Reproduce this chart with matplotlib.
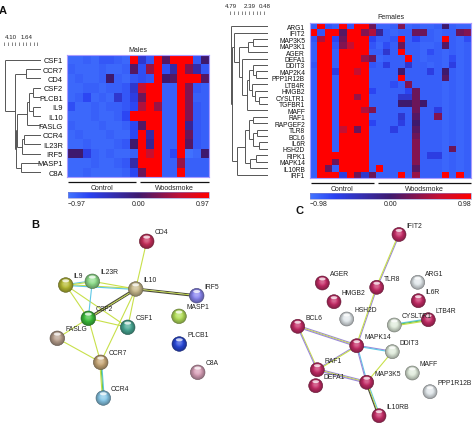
import numpy as np
import matplotlib
matplotlib.use('Agg')
import matplotlib.pyplot as plt
import matplotlib.transforms as mtransforms
from matplotlib.colors import LinearSegmentedColormap, Normalize, to_rgb
from matplotlib.colorbar import ColorbarBase
from matplotlib.patches import Circle, Ellipse

plt.rcParams['font.family'] = ['Liberation Sans', 'DejaVu Sans']

W, H, DPI = 473, 427, 100

# %% panel A, males
male_genes = ['CSF1', 'CCR7', 'CD4', 'CSF2', 'PLCB1', 'IL9', 'IL10', 'FASLG',
              'CCR4', 'IL23R', 'IRF5', 'MASP1', 'C8A']
male_groups = [('Control', 9), ('Woodsmoke', 9)]
male_lim = 0.97
male_values = [
    [-0.9, -0.9, -0.85, -0.9, -0.8, -0.8, -0.85, -0.9, 0.97, -0.5, -0.8, 0.97, 0.1, 0.97, 0.97, 0.97, -0.8, 0.0],
    [-0.85, -0.9, -0.9, -0.9, -0.85, -0.9, -0.9, -0.85, 0.1, -0.75, 0.4, 0.97, -0.75, -0.3, 0.97, 0.3, -0.3, -0.8],
    [-0.9, -0.85, -0.9, -0.9, -0.85, 0.0, -0.85, -0.9, -0.8, -0.75, -0.8, 0.97, 0.0, 0.1, 0.97, 0.97, 0.97, 0.1],
    [-0.9, -0.9, -0.85, -0.85, -0.9, -0.85, -0.85, -0.8, -0.5, 0.6, 0.97, 0.97, -0.85, -0.85, 0.97, 0.3, -0.8, -0.85],
    [-0.9, -0.85, -0.7, -0.9, -0.85, -0.9, -0.5, -0.8, -0.6, 0.2, 0.97, 0.97, -0.85, -0.85, 0.97, 0.3, -0.85, -0.85],
    [-0.75, -0.9, -0.9, -0.85, -0.9, -0.85, -0.85, -0.8, -0.7, 0.5, 0.97, 0.4, -0.85, -0.85, 0.97, 0.3, -0.8, -0.85],
    [-0.9, -0.9, -0.9, -0.85, -0.9, -0.9, -0.85, -0.7, 0.97, 0.97, 0.97, 0.97, -0.85, -0.85, 0.97, 0.3, -0.8, -0.85],
    [-0.85, -0.9, -0.9, -0.9, -0.85, -0.9, -0.9, -0.85, -0.7, 0.1, 0.97, 0.97, -0.85, -0.85, 0.97, -0.2, -0.8, -0.85],
    [-0.9, -0.85, -0.9, -0.9, -0.9, -0.85, -0.9, -0.9, -0.7, 0.97, -0.3, 0.97, -0.85, -0.85, 0.97, 0.2, -0.8, -0.85],
    [-0.9, -0.9, -0.85, -0.9, -0.9, -0.9, -0.85, -0.8, 0.0, 0.97, -0.2, 0.97, -0.85, -0.85, 0.97, 0.1, -0.8, -0.85],
    [0.0, 0.0, -0.6, -0.85, -0.9, -0.85, -0.9, -0.9, -0.85, 0.97, 0.6, 0.97, -0.85, -0.7, 0.97, -0.95, -0.9, 0.0],
    [-0.9, -0.9, -0.9, -0.85, -0.9, -0.9, -0.85, -0.8, -0.3, 0.97, 0.97, 0.97, -0.85, -0.85, 0.4, -0.85, -0.85, -0.85],
    [-0.9, -0.9, -0.85, -0.9, -0.9, -0.9, -0.9, -0.85, -0.7, 0.2, 0.97, 0.97, -0.85, -0.85, 0.97, -0.85, -0.85, -0.85],
]
# merges: (child a, child b, height); children >= n are earlier merges
male_tree = [(1, 2, 1.75), (3, 4, 0.85), (5, 6, 0.9), (14, 15, 1.4), (16, 7, 1.55),
             (8, 9, 1.9), (18, 10, 2.15), (11, 12, 2.3), (17, 19, 2.75),
             (21, 20, 2.85), (13, 22, 2.95), (0, 23, 4.1)]
male_scale = [4.10, 1.64]
male_tree_max = 4.3

# %% panel A, females
female_genes = ['ARG1', 'IFIT2', 'MAP3K5', 'MAP3K1', 'AGER', 'DEFA1', 'DDIT3', 'MAP2K4',
                'PPP1R12B', 'LTB4R', 'HMGB2', 'CYSLTR1', 'TGFBR1', 'MAFF', 'RAF1',
                'RAPGEF2', 'TLR8', 'BCL6', 'IL6R', 'HSH2D', 'RIPK1', 'MAPK14', 'IL10RB', 'IRF1']
female_groups = [('Control', 9), ('Woodsmoke', 13)]
female_lim = 0.98
female_values = [
    [-0.85, 0.98, -0.8, -0.85, 0.98, -0.8, 0.98, 0.98, 0.2, -0.9, -0.9, -0.85, 0.3, -0.9, -0.85, -0.9, -0.9, -0.85, 0.0, -0.85, -0.9, -0.9],
    [0.98, -0.8, 0.98, 0.98, 0.1, 0.98, 0.98, 0.3, 0.5, -0.2, -0.85, -0.9, -0.85, -0.85, 0.2, 0.2, -0.85, -0.9, -0.85, -0.85, 0.2, 0.3],
    [-0.8, 0.5, 0.98, -0.7, 0.2, 0.98, 0.98, 0.98, -0.7, -0.85, -0.85, -0.8, 0.98, -0.85, -0.7, -0.85, -0.85, -0.9, 0.98, -0.85, -0.9, -0.75],
    [-0.85, 0.98, 0.98, -0.8, 0.3, 0.6, 0.98, 0.98, -0.8, -0.9, -0.75, -0.85, 0.2, -0.85, -0.85, -0.9, -0.9, -0.85, 0.1, -0.85, -0.9, -0.85],
    [-0.85, 0.98, 0.98, -0.85, 0.98, 0.98, 0.98, 0.98, -0.85, -0.85, -0.5, -0.85, 0.98, -0.85, -0.85, -0.9, -0.75, -0.85, -0.9, -0.85, -0.9, -0.85],
    [-0.85, 0.98, 0.98, -0.85, 0.98, 0.98, 0.98, 0.4, 0.2, -0.9, -0.85, -0.85, -0.85, 0.98, -0.85, -0.9, -0.85, -0.85, -0.9, -0.75, -0.9, -0.85],
    [-0.8, 0.98, 0.98, -0.85, 0.98, 0.98, 0.98, 0.98, -0.8, -0.85, -0.6, -0.85, -0.85, -0.5, -0.85, -0.85, -0.9, -0.85, -0.9, -0.6, -0.9, -0.85],
    [-0.85, 0.98, 0.98, -0.6, 0.98, 0.98, 0.6, 0.98, -0.85, -0.85, -0.85, -0.85, 0.0, -0.85, -0.85, -0.85, -0.6, -0.85, 0.0, -0.85, -0.9, -0.85],
    [-0.85, 0.98, 0.98, -0.85, 0.98, 0.98, 0.98, 0.98, -0.85, -0.85, -0.85, -0.85, 0.98, -0.85, -0.85, -0.85, -0.85, -0.85, 0.1, -0.85, -0.9, -0.85],
    [-0.85, 0.98, 0.98, -0.85, 0.98, 0.98, 0.98, 0.98, -0.85, -0.85, -0.85, -0.75, -0.85, 0.3, -0.85, -0.85, -0.85, -0.85, -0.9, -0.85, -0.9, -0.85],
    [-0.85, 0.98, 0.98, -0.85, 0.98, 0.98, 0.98, 0.98, -0.7, -0.85, -0.85, -0.85, -0.85, -0.7, 0.2, -0.85, -0.85, -0.85, -0.9, -0.85, -0.9, -0.85],
    [-0.85, 0.98, 0.98, -0.85, 0.98, 0.98, 0.4, 0.98, -0.85, -0.85, -0.85, -0.85, -0.5, -0.5, 0.2, -0.85, -0.85, -0.85, -0.9, -0.85, -0.9, -0.85],
    [-0.85, 0.98, 0.98, -0.85, 0.98, 0.98, 0.98, 0.98, -0.85, -0.85, -0.85, -0.85, 0.0, 0.0, 0.2, 0.0, -0.85, -0.85, -0.9, -0.85, -0.9, -0.85],
    [-0.85, 0.98, 0.98, -0.85, 0.98, 0.98, 0.98, 0.5, 0.3, -0.85, -0.85, -0.85, -0.85, -0.85, 0.2, -0.85, -0.85, -0.6, -0.9, -0.85, -0.9, -0.85],
    [-0.85, 0.98, 0.98, -0.85, 0.98, 0.98, 0.98, 0.98, -0.85, -0.85, -0.85, -0.85, -0.5, -0.85, 0.1, -0.85, -0.85, 0.3, -0.9, -0.85, -0.9, -0.85],
    [-0.85, 0.98, 0.98, -0.85, 0.98, 0.98, 0.98, 0.98, -0.7, -0.85, -0.85, -0.85, -0.6, -0.85, 0.0, -0.85, -0.85, -0.85, -0.9, -0.85, -0.9, -0.85],
    [-0.85, 0.98, 0.98, -0.85, 0.6, 0.98, 0.2, 0.98, -0.85, -0.85, -0.85, -0.6, -0.85, -0.85, 0.1, -0.85, -0.85, -0.85, -0.9, -0.85, -0.9, -0.85],
    [-0.85, 0.98, 0.98, -0.85, 0.98, 0.98, 0.98, 0.98, -0.85, -0.85, -0.85, -0.85, -0.85, -0.85, 0.2, -0.85, -0.85, -0.85, -0.9, -0.85, -0.9, -0.85],
    [-0.85, 0.98, 0.98, -0.85, 0.98, 0.98, 0.98, 0.98, -0.85, -0.85, -0.85, -0.85, -0.85, -0.85, 0.3, -0.85, -0.85, -0.85, -0.9, -0.85, -0.9, -0.85],
    [-0.85, 0.98, 0.98, -0.85, 0.98, 0.98, 0.98, 0.98, -0.85, -0.85, -0.85, -0.85, -0.85, -0.85, 0.3, -0.85, -0.85, -0.85, -0.9, 0.2, -0.9, -0.85],
    [-0.85, 0.98, 0.98, 0.98, 0.98, 0.98, 0.98, 0.98, -0.85, -0.85, -0.85, -0.85, -0.85, -0.85, 0.3, -0.85, -0.6, -0.6, -0.9, -0.85, -0.9, -0.85],
    [-0.85, 0.98, 0.98, 0.2, 0.98, 0.98, 0.98, 0.98, -0.85, -0.85, -0.85, -0.85, -0.85, -0.85, 0.3, -0.85, -0.85, -0.85, -0.9, -0.85, -0.9, -0.85],
    [-0.85, 0.98, 0.2, -0.85, 0.98, 0.98, 0.98, 0.98, -0.85, 0.98, -0.85, -0.85, -0.85, -0.85, 0.1, -0.85, -0.85, -0.85, -0.9, -0.85, -0.9, -0.85],
    [-0.85, 0.98, 0.98, 0.98, -0.6, 0.98, 0.2, -0.5, 0.2, -0.85, -0.85, -0.85, 0.98, -0.85, 0.4, -0.85, -0.85, -0.85, 0.98, -0.85, 0.98, -0.85],
]
female_tree = [(2, 3, 2.0), (24, 4, 2.6), (7, 8, 1.6), (6, 26, 2.0), (11, 12, 1.2),
               (10, 28, 1.7), (9, 29, 2.1), (27, 30, 2.5), (31, 13, 2.8), (5, 32, 3.4),
               (25, 33, 3.8), (1, 34, 4.5), (14, 15, 1.9), (16, 17, 1.5), (18, 19, 1.2),
               (37, 38, 1.9), (36, 39, 2.5), (20, 21, 1.6), (41, 22, 2.3), (40, 42, 3.0),
               (43, 23, 4.0), (35, 44, 4.65), (0, 45, 4.85)]
female_scale = [4.79, 2.39, 0.48]
female_tree_max = 5.1

# %% panel B network (layout coordinates)
b_nodes = ['CD4', 'IL9', 'IL23R', 'IL10', 'IRF5', 'CSF2', 'MASP1', 'CSF1',
           'FASLG', 'PLCB1', 'CCR7', 'C8A', 'CCR4']
b_x = [146.7, 65.7, 92.3, 135.7, 196.7, 88.3, 179.0, 127.7, 57.3, 179.3, 100.7, 197.7, 103.3]
b_y = [242.3, 286.0, 282.3, 290.0, 296.7, 319.3, 317.3, 328.3, 339.3, 345.0, 363.3, 373.3, 399.0]
b_colors = ['#c8305c', '#b6ba34', '#90de8c', '#c8ba8c', '#8a86f0', '#3cbf3c', '#b4e05a',
            '#48a894', '#b8a08e', '#2848d8', '#c8a878', '#d8a0b8', '#88c8e8']
b_edges = [('CD4', 'IL10', 'y'), ('IL10', 'IRF5', 'kyk'), ('IL9', 'IL23R', 'cy'),
           ('IL9', 'IL10', 'yc'), ('IL23R', 'IL10', 'y'), ('IL9', 'CSF2', 'y'),
           ('IL9', 'CSF1', 'y'), ('IL23R', 'CSF2', 'c'), ('IL10', 'CSF2', 'kyk'),
           ('IL10', 'CSF1', 'y'), ('IL10', 'CCR7', 'y'), ('CSF2', 'CSF1', 'y'),
           ('CSF2', 'CCR7', 'y'), ('FASLG', 'CSF2', 'y'), ('FASLG', 'CCR7', 'y'),
           ('CCR7', 'CCR4', 'cgy')]

# %% panel C network
c_nodes = ['IFIT2', 'AGER', 'TLR8', 'ARG1', 'HMGB2', 'IL6R', 'HSH2D', 'CYSLTR1', 'LTB4R',
           'BCL6', 'MAPK14', 'DDIT3', 'RAF1', 'MAFF', 'DEFA1', 'MAP3K5', 'PPP1R12B', 'IL10RB']
c_x = [399.0, 322.3, 376.7, 417.7, 334.0, 418.3, 346.7, 394.3, 428.3,
       297.7, 356.7, 392.3, 317.3, 412.3, 315.7, 366.7, 430.0, 379.0]
c_y = [235.5, 284.0, 288.3, 283.3, 302.7, 301.7, 320.0, 326.0, 320.7,
       327.3, 346.7, 352.7, 370.7, 374.0, 386.7, 383.3, 392.7, 416.7]
c_colors = ['#c42c66', '#c42c66', '#c42c66', '#e2e8ec', '#c42c66', '#c42c66', '#e2e8ec',
            '#e0ecdc', '#c42c66', '#c42c66', '#c42c66', '#e0ecdc', '#c42c66', '#e0ecdc',
            '#c42c66', '#c42c66', '#e2e8ec', '#c42c66']
c_edges = [('IFIT2', 'TLR8', 'py'), ('TLR8', 'MAPK14', 'py'), ('BCL6', 'MAPK14', 'pyp'),
           ('BCL6', 'RAF1', 'yp'), ('RAF1', 'MAPK14', 'py'), ('RAF1', 'MAP3K5', 'pyp'),
           ('MAPK14', 'MAP3K5', 'cp'), ('MAPK14', 'DDIT3', 'pc'), ('MAP3K5', 'DDIT3', 'y'),
           ('MAP3K5', 'IL10RB', 'cyk'), ('CYSLTR1', 'LTB4R', 'cgy')]

EDGE_COLORS = {'y': '#c8e04a', 'c': '#5ec8e6', 'k': '#4a4a38', 'g': '#5cc05c', 'p': '#9a88d8'}

cmap = LinearSegmentedColormap.from_list(
    'bdr', [(0.0, '#4274ff'), (0.15, '#2a42f2'), (0.5, '#3e1a6e'), (0.8, '#c41034'), (1.0, '#ff0000')])

fig = plt.figure(figsize=(W / DPI, H / DPI), dpi=DPI)


def px_axes(x0, y0, x1, y1):
    return fig.add_axes([x0 / W, 1 - y1 / H, (x1 - x0) / W, (y1 - y0) / H])


def draw_tree(ax, n, merges, hmax):
    ypos = list(range(n))
    hpos = [0.0] * n
    for a, b, h in merges:
        for c in (a, b):
            ax.plot([hpos[c], h], [ypos[c], ypos[c]], color='#555555', lw=0.7,
                    solid_capstyle='butt')
        ax.plot([h, h], [ypos[a], ypos[b]], color='#555555', lw=0.7, solid_capstyle='butt')
        ypos.append((ypos[a] + ypos[b]) / 2)
        hpos.append(h)
    ax.set_xlim(hmax, 0)
    ax.set_ylim(n - 0.5, -0.5)
    ax.axis('off')


def ruler(ax, hmax, labels, aligns):
    ax.set_xlim(hmax, 0)
    ax.set_ylim(0, 1)
    ax.axis('off')
    ax.plot([hmax * 0.97, 0], [0, 0], color='#555555', lw=0.6)
    ax.vlines(np.linspace(hmax * 0.97, 0, 11), 0, 1, color='#555555', lw=0.5)
    for v, ha in zip(labels, aligns):
        ax.annotate(f'{v:.2f}', (v, 1), xytext=(0, 2.5), textcoords='offset points',
                    ha=ha, va='bottom', fontsize=4.4, color='#222222')


def heatmap(box, genes, values, lim, groups, title, fs_rows, pad_rows, cbar_box, title_gap):
    x0, y0, x1, y1 = box
    ax = px_axes(x0, y0, x1, y1)
    data = np.array(values)
    ax.imshow(data, cmap=cmap, norm=Normalize(-lim, lim), aspect='auto', interpolation='nearest')
    ax.set_xticks([])
    ax.set_yticks(range(len(genes)))
    ax.set_yticklabels(genes, fontsize=fs_rows, color='#111111')
    ax.tick_params(axis='y', length=0, pad=pad_rows)
    for s in ax.spines.values():
        s.set_color('#a99cff')
        s.set_linewidth(0.8)
    ax.text(0.5, 1 + title_gap / (y1 - y0), title, transform=ax.transAxes,
            ha='center', va='center', fontsize=5, color='#222222')
    # group bars under the heatmap
    trans = mtransforms.blended_transform_factory(ax.transData, ax.transAxes)
    start = 0
    bar_y = -4.7 / (y1 - y0)
    txt_y = -10.5 / (y1 - y0)
    for i, (name, size) in enumerate(groups):
        a = start - 0.5 + (0.25 if i > 0 else 0.1)
        b = start + size - 0.5 - (0.25 if i < len(groups) - 1 else 0.0)
        ax.plot([a, b], [bar_y, bar_y], color='#111111', lw=0.9, transform=trans,
                clip_on=False, solid_capstyle='butt')
        ax.text((a + b) / 2, txt_y, name, transform=trans, ha='center', va='center',
                fontsize=5, color='#222222')
        start += size
    cax = px_axes(*cbar_box)
    cb = ColorbarBase(cax, cmap=cmap, norm=Normalize(-lim, lim), orientation='horizontal')
    cb.set_ticks([])
    cb.outline.set_linewidth(0.4)
    cb.outline.set_edgecolor('#8888cc')
    for xx, lab, ha in [(0, f'\u2212{lim:.2f}', 'left'), (0.5, '0.00', 'center'),
                        (1, f'{lim:.2f}', 'right')]:
        cax.text(xx, -1.0, lab, transform=cax.transAxes, ha=ha, va='center',
                 fontsize=5, color='#222222')
    return ax


# %% panel A
heatmap((67, 56, 209, 178), male_genes, male_values, male_lim, male_groups, 'Males',
        5.4, 3.0, (68, 193, 209, 199), 5.3)
draw_tree(px_axes(3, 56, 41, 178), len(male_genes), male_tree, male_tree_max)
ruler(px_axes(3, 43, 41, 47), male_tree_max, male_scale, ['left', 'center'])

heatmap((310, 24, 471, 179), female_genes, female_values, female_lim, female_groups, 'Females',
        4.8, 3.6, (310, 194, 471, 199.5), 6.0)
draw_tree(px_axes(229, 24, 268, 179), len(female_genes), female_tree, female_tree_max)
ruler(px_axes(229, 12, 268, 15.5), female_tree_max, female_scale, ['center'] * 3)


# %% panels B and C
def sphere(ax, x, y, r, color):
    base = np.array(to_rgb(color))
    ax.add_patch(Circle((x, y), r, fc=base * 0.7, ec=base * 0.5, lw=0.4, zorder=3))
    for t in np.linspace(0, 1, 9)[1:]:
        col = base * (0.7 + 0.3 * min(t * 1.5, 1)) + (1 - base) * max(0.0, t - 0.55) * 0.6
        ax.add_patch(Circle((x, y - 0.22 * r * t), r * (1 - 0.72 * t),
                            fc=np.clip(col, 0, 1), ec='none', zorder=3))
    ax.add_patch(Ellipse((x, y - 0.58 * r), 0.95 * r, 0.42 * r, fc='white', ec='none',
                         alpha=0.75, zorder=4))


def network(ax, nodes, xs, ys, colors, edges, r):
    pos = {n: (x, y) for n, x, y in zip(nodes, xs, ys)}
    for a, b, kinds in edges:
        (xa, ya), (xb, yb) = pos[a], pos[b]
        d = np.hypot(xb - xa, yb - ya)
        nx, ny = -(yb - ya) / d, (xb - xa) / d
        m = len(kinds)
        for k, kind in enumerate(kinds):
            off = (k - (m - 1) / 2) * 0.9
            ax.plot([xa + nx * off, xb + nx * off], [ya + ny * off, yb + ny * off],
                    color=EDGE_COLORS[kind], lw=0.8, zorder=1)
    for n, x, y, c in zip(nodes, xs, ys, colors):
        sphere(ax, x, y, r, c)
        ax.text(x + r + 0.5, y - r - 2.0, n, ha='left', va='center', fontsize=4.9,
                color='#222222', zorder=5)


net = px_axes(0, 210, 473, 427)
net.set_xlim(0, 473)
net.set_ylim(427, 210)
net.set_aspect('equal')
net.axis('off')
network(net, b_nodes, b_x, b_y, b_colors, b_edges, 7.3)
network(net, c_nodes, c_x, c_y, c_colors, c_edges, 7.0)

for lab, x, y in [('A', 3, 11), ('B', 35, 225.5), ('C', 300, 211.5)]:
    fig.text(x / W, 1 - y / H, lab, ha='center', va='center', fontsize=8,
             fontweight='bold', color='#111111')

fig.savefig('out.png', dpi=DPI)
